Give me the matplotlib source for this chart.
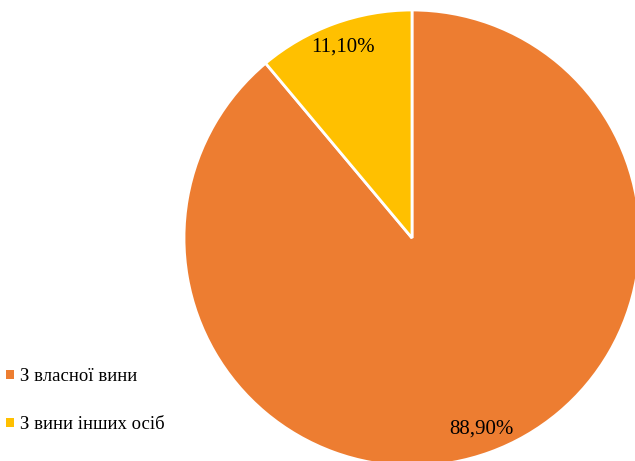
import matplotlib
matplotlib.use("Agg")
import matplotlib.pyplot as plt

categories = ["З власної вини", "З вини інших осіб"]
values = [88.9, 11.1]
colors = ["#ED7D31", "#FFC000"]

plt.rcParams['font.family'] = ['Liberation Serif', 'DejaVu Serif']

W, H = 635, 461
fig = plt.figure(figsize=(W / 100, H / 100), dpi=100)
ax = fig.add_axes([0, 0, 1, 1])

wedges, texts, autotexts = ax.pie(
    values, colors=colors, startangle=90, counterclock=False,
    center=(412, 223), radius=228, frame=True,
    autopct=lambda p: f"{p:.2f}%".replace('.', ','),
    pctdistance=0.89,
    wedgeprops=dict(edgecolor='white', linewidth=2),
    textprops=dict(fontsize=15, color='black'))
ax.set_xlim(0, W)
ax.set_ylim(0, H)
ax.set_aspect('equal')
ax.axis('off')

leg = fig.legend(wedges, categories, loc='center left',
                 bbox_to_anchor=(0.01, 0.131), frameon=False,
                 fontsize=13.5, handlelength=0.4, handleheight=0.4,
                 handletextpad=0.35, labelspacing=1.65, borderpad=0,
                 borderaxespad=0)
for h in leg.legend_handles:
    h.set_linewidth(0)

fig.savefig("out.png", dpi=100)
